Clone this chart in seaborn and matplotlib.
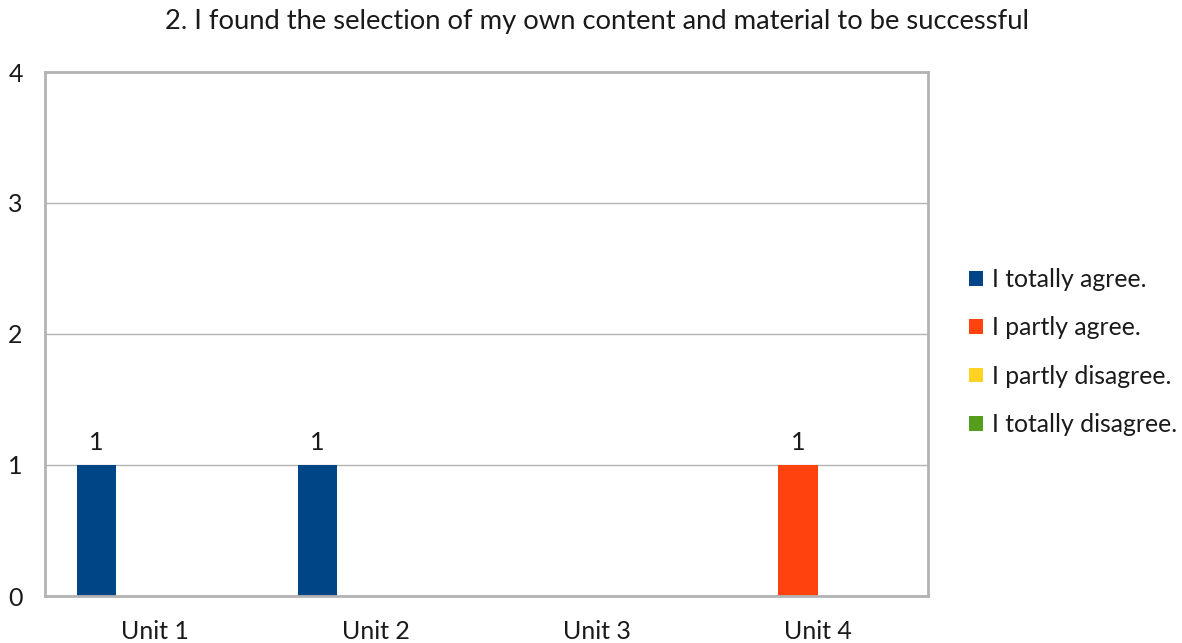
import matplotlib
matplotlib.use("Agg")
import matplotlib.pyplot as plt
import seaborn as sns
import pandas as pd
from matplotlib.patches import Patch

units = ["Unit 1", "Unit 2", "Unit 3", "Unit 4"]
answers = ["I totally agree.", "I partly agree.", "I partly disagree.", "I totally disagree."]
totally_agree = [1, 1, 0, 0]
partly_agree = [0, 0, 0, 1]
partly_disagree = [0, 0, 0, 0]
totally_disagree = [0, 0, 0, 0]
colors = ["#004586", "#ff420e", "#ffd320", "#579d1c"]
title = "2. I found the selection of my own content and material to be successful"

rows = []
for ans, vals in zip(answers, [totally_agree, partly_agree, partly_disagree, totally_disagree]):
    for u, v in zip(units, vals):
        rows.append({"unit": u, "answer": ans, "count": v})
df = pd.DataFrame(rows)

sns.set_theme(style="white")
plt.rcParams["font.family"] = ["Lato", "DejaVu Sans"]

fig = plt.figure(figsize=(11.82, 6.43), dpi=100)
ax = fig.add_axes([45 / 1182, 1 - 596 / 643, (928 - 45) / 1182, (596 - 72) / 643])

sns.barplot(data=df, x="unit", y="count", hue="answer", order=units,
            hue_order=answers, palette=colors, saturation=1, width=0.71,
            linewidth=0, ax=ax, legend=False, errorbar=None)

ax.set_xlim(-0.5, 3.5)
ax.set_ylim(0, 4)
ax.set_yticks([0, 1, 2, 3, 4])
ax.yaxis.grid(True, color="#b3b3b3", linewidth=1)
ax.set_axisbelow(True)
for s in ax.spines.values():
    s.set_color("#b3b3b3")
    s.set_linewidth(2)
ax.tick_params(axis="both", length=0, labelsize=18, colors="#1a1a1a")
ax.tick_params(axis="y", pad=16)
ax.tick_params(axis="x", pad=17)
ax.set_xlabel("")
ax.set_ylabel("")

for cont in ax.containers:
    labels = [f"{int(b.get_height())}" if b.get_height() > 0 else "" for b in cont]
    ax.bar_label(cont, labels=labels, padding=8, fontsize=18, color="#1a1a1a")

fig.text(597 / 1182, 1 - 22 / 643, title, ha="center", va="center", fontsize=19.7, color="#1a1a1a")

handles = [Patch(facecolor=c, edgecolor="none") for c in colors]
ax.legend(handles, answers, loc="center left", bbox_to_anchor=(947 / 1182, 1 - 352 / 643),
          bbox_transform=fig.transFigure, frameon=False, fontsize=17.8,
          handlelength=0.55, handleheight=0.55, handletextpad=0.35, labelspacing=1.03,
          labelcolor="#1a1a1a")

fig.savefig("out.png", dpi=100, facecolor="white")
